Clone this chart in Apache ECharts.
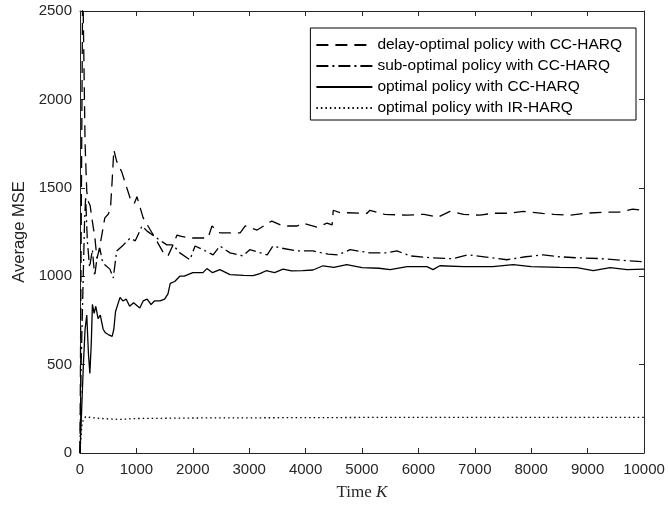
<!DOCTYPE html>
<html>
<head>
<meta charset="utf-8">
<script src="https://cdn.jsdelivr.net/npm/echarts@6/dist/echarts.min.js"></script>
<style>
  html, body { margin: 0; padding: 0; background: #fff; }
  #chart { width: 668px; height: 506px; }
</style>
</head>
<body>
<div id="chart"></div>
<script>
// legend names
var seriesNames = [
  'delay-optimal policy with CC-HARQ',
  'sub-optimal policy with CC-HARQ',
  'optimal policy with CC-HARQ',
  'optimal policy with IR-HARQ'
];

// delay-optimal policy, CC-HARQ (dashed)
var delayTime = [0, 20, 48, 71, 90, 120, 150, 180, 210, 265, 300, 340, 380, 440, 500, 540, 570, 600, 650, 740,
  890, 960, 1010, 1120, 1300, 1500, 1560, 1640, 1720, 1800, 1950, 2270, 2340, 2480, 2840, 2930, 3140, 3400,
  3600, 3850, 3950, 4200, 4380, 4470, 4490, 4610, 5090, 5140, 5400, 5800, 6100, 6350, 6560, 6800, 7090,
  7320, 7600, 7860, 8200, 8400, 8690, 8950, 9270, 9550, 9800, 10000];
var delayMse = [0, 1200, 2700, 2700, 1750, 1480, 1420, 1400, 1330, 1215, 1100, 1150, 1220, 1330, 1350, 1380,
  1540, 1715, 1650, 1590, 1440, 1410, 1450, 1330, 1233, 1121, 1115, 1170, 1233, 1225, 1216, 1216, 1284, 1245,
  1245, 1284, 1261, 1312, 1284, 1284, 1300, 1278, 1300, 1290, 1373, 1360, 1356, 1373, 1350, 1345, 1350, 1334,
  1367, 1350, 1345, 1356, 1356, 1367, 1355, 1350, 1345, 1356, 1362, 1362, 1379, 1372];

// sub-optimal policy, CC-HARQ (dash-dot)
var subTime = [0, 20, 50, 80, 100, 130, 170, 220, 260, 300, 350, 400, 440, 530, 590, 650, 770, 890, 980, 1100,
  1190, 1360, 1540, 1650, 1770, 1950, 2040, 2180, 2360, 2480, 2660, 2890, 3010, 3320, 3420, 3550, 3850, 4130,
  4400, 4570, 4790, 5140, 5440, 5620, 5850, 6200, 6610, 6880, 7200, 7570, 7900, 8210, 8500, 8810, 9200, 9600,
  10000];
var subMse = [0, 500, 900, 1300, 1450, 1200, 1050, 1150, 1000, 1100, 1160, 1080, 1065, 1040, 990, 1143, 1177,
  1216, 1200, 1284, 1255, 1216, 1177, 1177, 1132, 1093, 1171, 1150, 1121, 1171, 1132, 1115, 1150, 1121, 1171,
  1160, 1143, 1143, 1125, 1121, 1150, 1132, 1132, 1143, 1115, 1105, 1099, 1121, 1108, 1093, 1110, 1121, 1110,
  1104, 1100, 1090, 1082];

// optimal policy, CC-HARQ (solid)
var optTime = [0, 30, 60, 90, 120, 150, 175, 200, 220, 250, 280, 320, 360, 410, 450, 500, 570, 600, 630, 710,
  760, 820, 880, 950, 1060, 1120, 1190, 1260, 1320, 1420, 1500, 1560, 1600, 1680, 1770, 1850, 2000, 2180, 2250,
  2350, 2480, 2660, 2900, 3070, 3190, 3300, 3450, 3600, 3750, 3950, 4130, 4310, 4500, 4730, 5000, 5300, 5500,
  5800, 6150, 6260, 6380, 6800, 7320, 7680, 8000, 8500, 8810, 9100, 9400, 9700, 10000];
var optMse = [0, 250, 500, 700, 780, 560, 450, 620, 840, 790, 830, 760, 780, 700, 680, 670, 660, 700, 800, 880,
  860, 870, 830, 850, 820, 860, 870, 840, 860, 860, 870, 900, 960, 970, 1000, 1000, 1020, 1020, 1043, 1020, 1037,
  1009, 1005, 1003, 1015, 1031, 1020, 1040, 1030, 1031, 1035, 1059, 1050, 1065, 1048, 1045, 1037, 1054, 1054,
  1037, 1059, 1054, 1054, 1065, 1054, 1050, 1048, 1031, 1048, 1037, 1040];

// optimal policy, IR-HARQ (dotted)
var irTime = [0, 30, 60, 100, 200, 400, 700, 1000, 2000, 4000, 6000, 10000];
var irMse = [0, 150, 190, 205, 200, 195, 190, 195, 198, 200, 202, 202];

var xTicks = { min: 0, max: 10000, step: 1000 };
var yTicks = { min: 0, max: 2500, step: 500 };

function pairs(t, v) {
  return t.map(function (x, i) { return [x, v[i]]; });
}

var axisColor = '#262626';
var labelFont = 'Liberation Sans, Arial, sans-serif';

function plain(v) { return String(v); }

function xAxis(pos, showLabel) {
  return {
    type: 'value', position: pos,
    min: xTicks.min, max: xTicks.max, interval: xTicks.step,
    axisLine: { show: true, onZero: false, lineStyle: { color: axisColor, width: 1 } },
    axisTick: { show: true, inside: true, length: 5, lineStyle: { color: axisColor } },
    axisLabel: { show: showLabel, color: axisColor, fontSize: 15, fontFamily: labelFont, margin: 9, formatter: plain },
    splitLine: { show: false }
  };
}

function yAxis(pos, showLabel) {
  return {
    type: 'value', position: pos,
    min: yTicks.min, max: yTicks.max, interval: yTicks.step,
    axisLine: { show: true, onZero: false, lineStyle: { color: axisColor, width: 1 } },
    axisTick: { show: true, inside: true, length: 5, lineStyle: { color: axisColor } },
    axisLabel: { show: showLabel, color: axisColor, fontSize: 15, fontFamily: labelFont, margin: 8, formatter: plain },
    splitLine: { show: false }
  };
}

var bottomX = xAxis('bottom', true);
bottomX.name = '{a|Time }{b|K}';
bottomX.nameLocation = 'middle';
bottomX.nameGap = 31;
bottomX.nameTextStyle = {
  rich: {
    a: { fontFamily: 'Liberation Serif, serif', fontSize: 17, color: axisColor },
    b: { fontFamily: 'Liberation Serif, serif', fontSize: 17, fontStyle: 'italic', color: axisColor }
  }
};

var leftY = yAxis('left', true);
leftY.name = 'Average MSE';
leftY.nameLocation = 'middle';
leftY.nameGap = 47;
leftY.nameTextStyle = { fontFamily: labelFont, fontSize: 16.5, color: axisColor };

function line(name, t, v, dash) {
  return {
    name: name, type: 'line', data: pairs(t, v),
    xAxisIndex: 0, yAxisIndex: 0,
    symbol: 'none', smooth: false,
    lineStyle: { color: '#000', width: 1.3, type: dash },
    itemStyle: { color: '#000' }
  };
}

var chart = echarts.init(document.getElementById('chart'));
chart.setOption({
  animation: false,
  backgroundColor: '#fff',
  grid: { left: 80, right: 24, top: 11, bottom: 49 },
  xAxis: [bottomX, xAxis('top', false)],
  yAxis: [leftY, yAxis('right', false)],
  legend: {
    orient: 'vertical', right: 32, top: 28,
    itemWidth: 56, itemHeight: 12, itemGap: 5,
    padding: [9, 14, 4, 5],
    borderColor: '#000', borderWidth: 1,
    itemStyle: { opacity: 0 },
    textStyle: { fontSize: 15.5, fontFamily: labelFont, color: '#000' },
    data: seriesNames
  },
  series: [
    line(seriesNames[0], delayTime, delayMse, [12, 7]),
    line(seriesNames[1], subTime, subMse, [12, 4, 2, 4]),
    line(seriesNames[2], optTime, optMse, 'solid'),
    line(seriesNames[3], irTime, irMse, [1.5, 3])
  ]
});
</script>
</body>
</html>
